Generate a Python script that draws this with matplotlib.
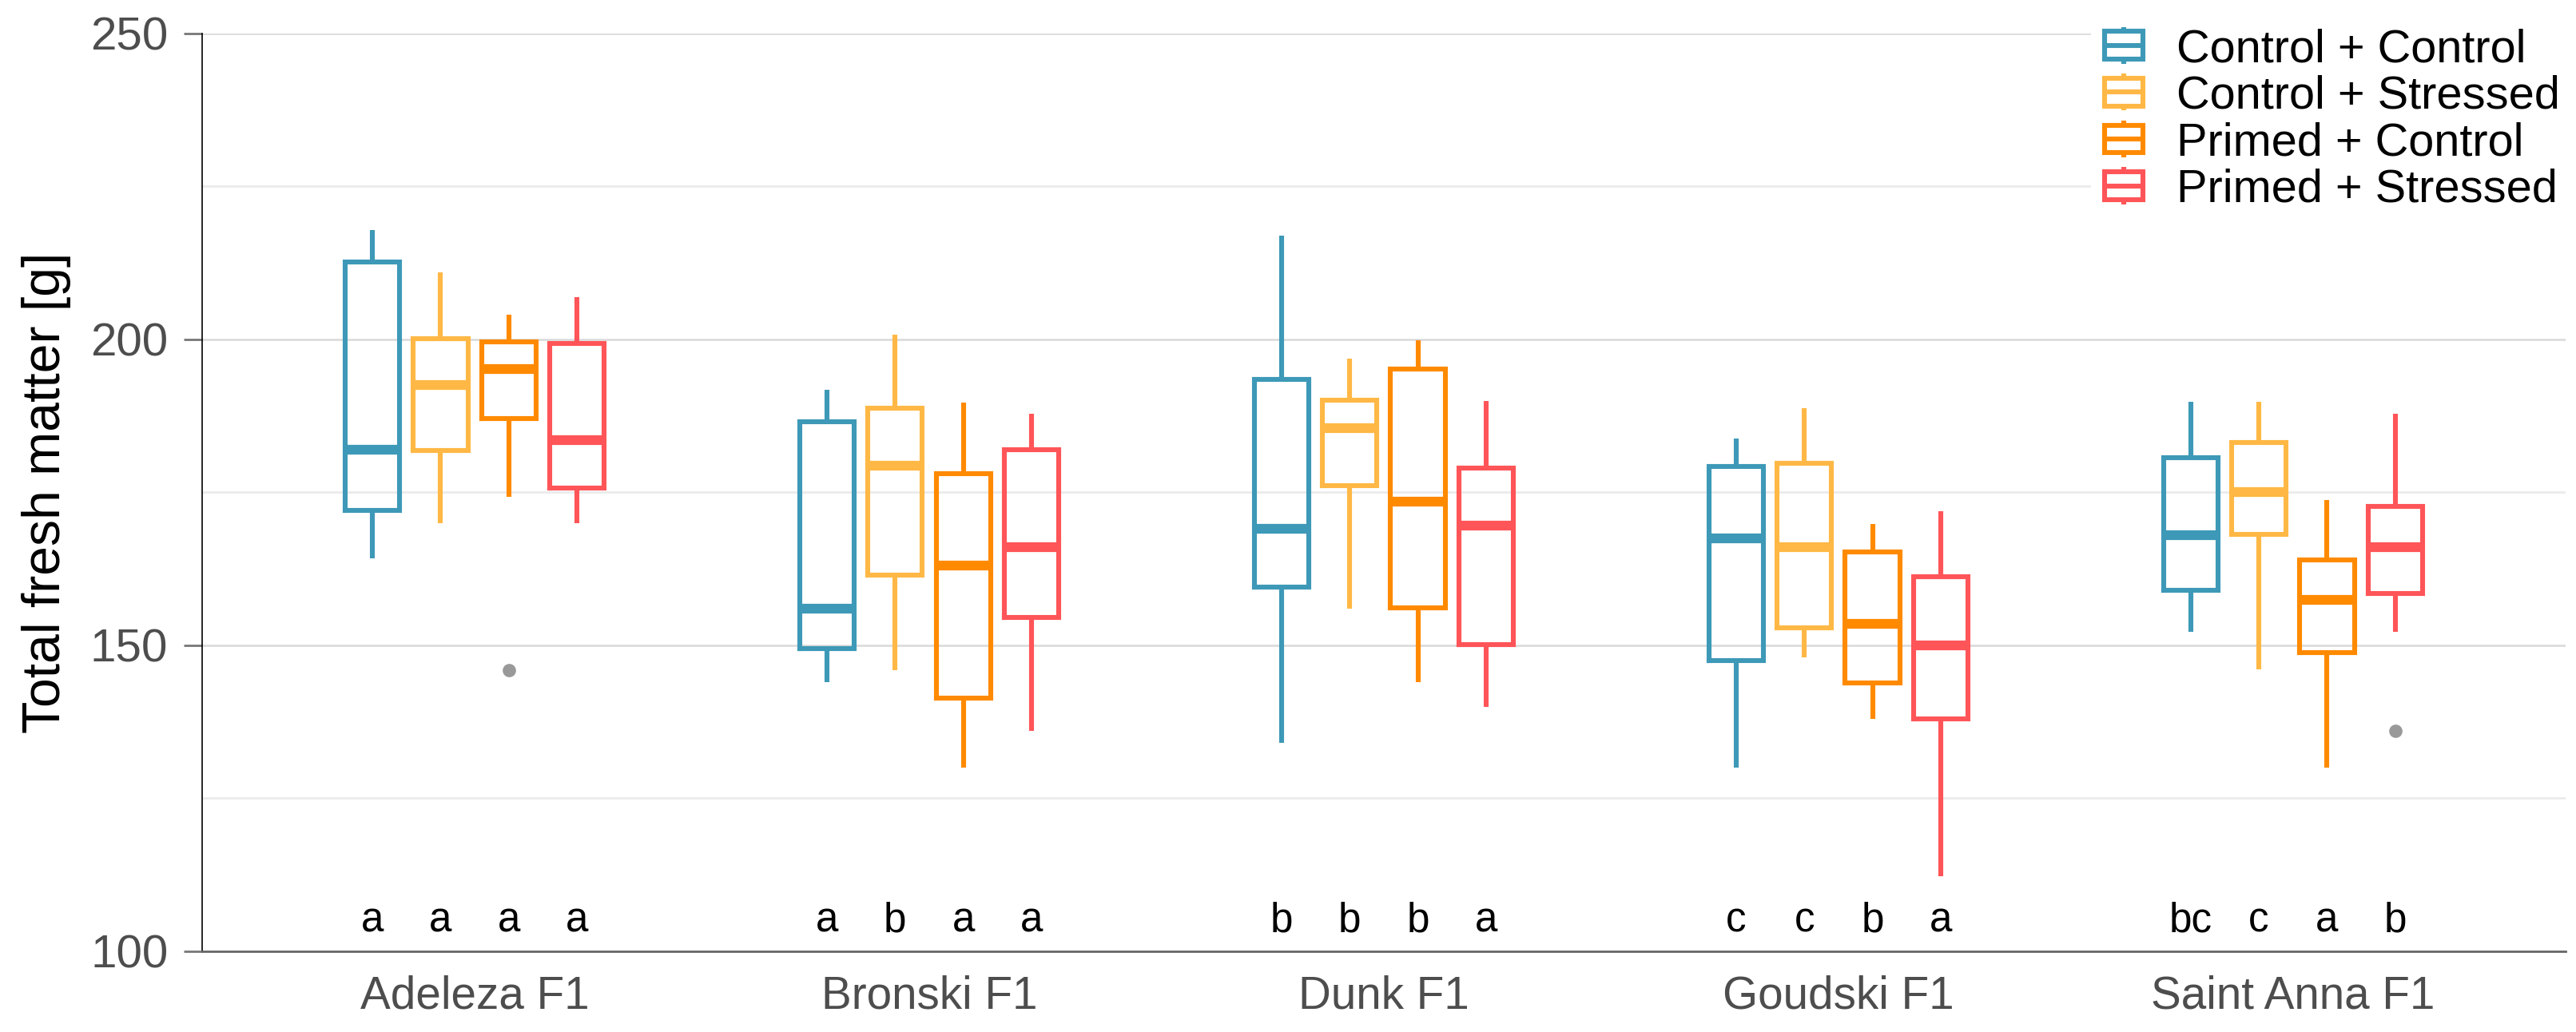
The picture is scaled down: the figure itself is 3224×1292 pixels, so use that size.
import numpy as np
import matplotlib
matplotlib.use("Agg")
import matplotlib.pyplot as plt
from matplotlib.legend_handler import HandlerBase
from matplotlib.lines import Line2D
from matplotlib.patches import Rectangle

plt.rcParams['font.family'] = ['Liberation Sans', 'DejaVu Sans']

# data
cultivars = ["Adeleza F1", "Bronski F1", "Dunk F1", "Goudski F1", "Saint Anna F1"]
treatments = ["Control + Control", "Control + Stressed", "Primed + Control", "Primed + Stressed"]
colors = ["#3D99B7", "#FFB845", "#FF8A00", "#FF5558"]

# per treatment: one value per cultivar
whislo = [
    [164.2, 144.0, 134.0, 130.0, 152.2],
    [170.0, 146.0, 156.0, 148.0, 146.1],
    [174.2, 130.0, 144.0, 138.0, 130.0],
    [170.0, 136.0, 140.0, 112.2, 152.2],
]
q1 = [
    [172.0, 149.5, 159.5, 147.5, 159.0],
    [181.8, 161.5, 176.1, 152.9, 168.1],
    [187.0, 141.4, 156.1, 143.9, 148.8],
    [175.7, 154.5, 150.1, 138.0, 158.5],
]
med = [
    [182.0, 156.0, 169.0, 167.5, 168.0],
    [192.5, 179.4, 185.5, 166.0, 175.0],
    [195.1, 163.0, 173.5, 153.5, 157.4],
    [183.5, 166.0, 169.5, 150.0, 166.0],
]
q3 = [
    [212.7, 186.5, 193.5, 179.2, 180.7],
    [200.1, 188.7, 190.0, 179.7, 183.2],
    [199.6, 178.0, 195.2, 165.2, 163.9],
    [199.3, 182.0, 179.0, 161.2, 172.7],
]
whishi = [
    [217.9, 191.7, 216.9, 183.8, 189.8],
    [211.0, 200.8, 196.8, 188.8, 189.8],
    [204.0, 189.7, 199.9, 169.8, 173.7],
    [206.9, 187.8, 189.9, 171.9, 187.8],
]
outliers = [
    [[], [], [], [], []],
    [[], [], [], [], []],
    [[146.0], [], [], [], []],
    [[], [], [], [], [136.0]],
]
letters = [
    ["a", "a", "b", "c", "bc"],
    ["a", "b", "b", "c", "c"],
    ["a", "a", "b", "b", "a"],
    ["a", "a", "a", "a", "b"],
]

offsets = [-0.225, -0.075, 0.075, 0.225]
box_w = 0.12
lw = 2.2

fig = plt.figure(figsize=(16.12, 6.46), dpi=200)
ax = fig.add_axes([0.0784, 0.0782, 0.9176, 0.8895])

x = np.arange(1, len(cultivars) + 1)
for t in range(len(treatments)):
    stats = []
    for g in range(len(cultivars)):
        stats.append(dict(med=med[t][g], q1=q1[t][g], q3=q3[t][g],
                          whislo=whislo[t][g], whishi=whishi[t][g],
                          fliers=outliers[t][g]))
    c = colors[t]
    ax.bxp(stats, positions=x + offsets[t], widths=box_w, showcaps=False,
           boxprops=dict(color=c, linewidth=lw, solid_joinstyle='miter'),
           whiskerprops=dict(color=c, linewidth=lw, solid_capstyle='butt'),
           medianprops=dict(color=c, linewidth=4.4, solid_capstyle='butt'),
           flierprops=dict(marker='o', markerfacecolor='#999999',
                           markeredgecolor='#999999', markersize=5),
           zorder=3)
    # significance letters under each box
    for g in range(len(cultivars)):
        ax.text(x[g] + offsets[t], 103.2, letters[t][g], ha='center', va='baseline',
                fontsize=18.4, color='black', zorder=4)

ax.set_xlim(0.4, 5.6)
ax.set_ylim(100, 250)
ax.set_xticks(x)
ax.set_xticklabels(cultivars)
ax.set_yticks([100, 150, 200, 250])
ax.set_yticks([125, 175, 225], minor=True)
ax.tick_params(axis='y', which='major', length=8.3, width=1.0, color='#777777',
               labelsize=21, labelcolor='#4D4D4D', pad=7)
ax.tick_params(axis='y', which='minor', length=0)
ax.tick_params(axis='x', length=0, labelsize=20.4, labelcolor='#4D4D4D', pad=10.7)
ax.set_ylabel("Total fresh matter [g]", fontsize=23.8, color='black', labelpad=8.5)

ax.grid(axis='y', which='major', color='#D9D9D9', linewidth=0.9, zorder=0)
ax.grid(axis='y', which='minor', color='#EBEBEB', linewidth=1.0, zorder=0)
ax.set_axisbelow(True)
for s in ['top', 'right']:
    ax.spines[s].set_visible(False)
ax.spines['left'].set_color('black')
ax.spines['left'].set_linewidth(0.6)
ax.spines['bottom'].set_color('#666666')
ax.spines['bottom'].set_linewidth(1.0)


# legend key drawn as a small boxplot
class BoxKey(HandlerBase):
    def create_artists(self, legend, orig_handle, xdescent, ydescent,
                       width, height, fontsize, trans):
        c = orig_handle.get_color()
        x0, y0 = -xdescent, -ydescent
        cx = x0 + width / 2
        cy = y0 + height / 2
        bw = width
        hb = 0.30 * fontsize
        hw = 0.40 * fontsize
        arts = [
            Line2D([cx, cx], [cy - hw, cy - hb], color=c, lw=lw, solid_capstyle='butt'),
            Line2D([cx, cx], [cy + hb, cy + hw], color=c, lw=lw, solid_capstyle='butt'),
            Rectangle((cx - bw / 2, cy - hb), bw, 2 * hb, facecolor='white',
                      edgecolor=c, lw=lw),
            Line2D([cx - bw / 2, cx + bw / 2], [cy, cy], color=c, lw=lw,
                   solid_capstyle='butt'),
        ]
        for a in arts:
            a.set_transform(trans)
        return arts


handles = [Line2D([], [], color=c) for c in colors]
leg = fig.legend(handles, treatments, loc='upper right',
                 bbox_to_anchor=(1.0 + 6 / 3224, 1.0 - 9 / 1292),
                 fontsize=20.8, frameon=True, facecolor='white', edgecolor='none',
                 framealpha=1.0, handler_map={Line2D: BoxKey()},
                 handlelength=0.83, handleheight=0.6, handletextpad=0.73,
                 labelspacing=0.08, borderpad=0.3, borderaxespad=0.15)
leg.set_zorder(10)

fig.savefig("out.png", dpi=200)
